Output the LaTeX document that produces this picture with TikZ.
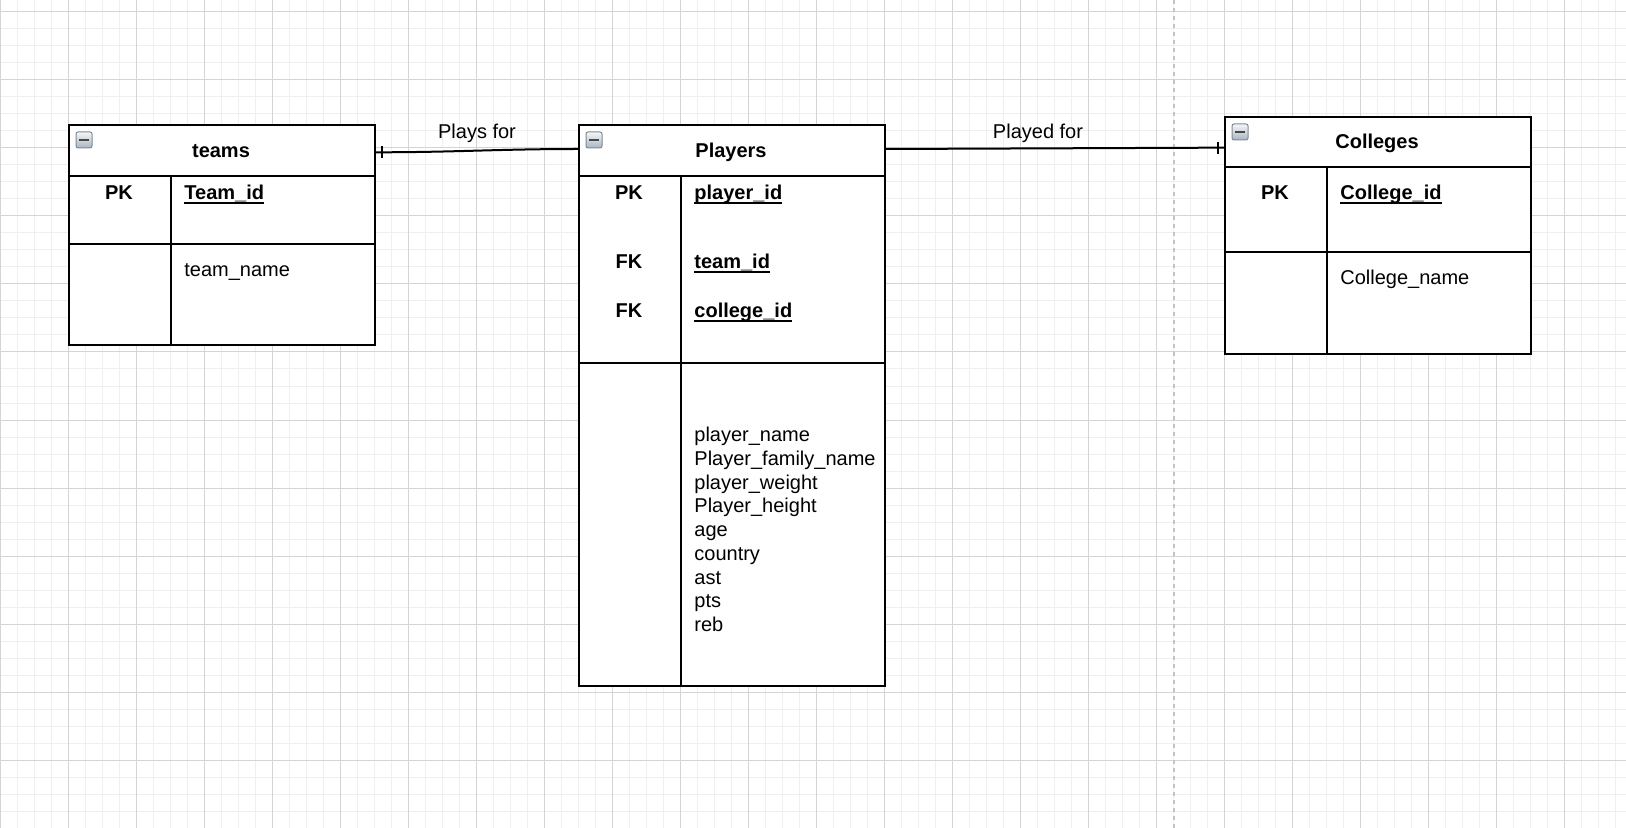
\documentclass[tikz,border=0pt]{standalone}
\usepackage{fontspec}
\setmainfont{Liberation Sans}
\usetikzlibrary{fit,calc}
\definecolor{gridminor}{HTML}{EFEFEF}
\definecolor{gridmajor}{HTML}{D4D4D4}
\definecolor{guide}{HTML}{C4C4C4}
\definecolor{iconedge}{HTML}{7E8A96}
\definecolor{icontop}{HTML}{F4F6F9}
\definecolor{iconbot}{HTML}{A9B5C1}
\newsavebox\kfbox
\newcommand{\keyfield}[1]{\sbox\kfbox{\bfseries #1}\usebox\kfbox\llap{\rule[-1.9pt]{\wd\kfbox}{0.9pt}}}
\tikzset{
  tbl/.style={draw=black, line width=1pt, fill=white, inner sep=0pt},
  hdr/.style={draw=black, line width=1pt, inner sep=0pt},
  divline/.style={line width=1pt},
  txt/.style={inner sep=0pt, font=\fontsize{10pt}{12pt}\selectfont, anchor=base west},
  ctxt/.style={inner sep=0pt, font=\fontsize{10pt}{12pt}\selectfont, anchor=base},
  ttl/.style={inner sep=0pt, font=\fontsize{10pt}{12pt}\selectfont\bfseries, anchor=base},
  keytxt/.style={inner sep=0pt, font=\fontsize{10pt}{12pt}\selectfont\bfseries, anchor=base},
  conn/.style={line width=1pt},
  crowbar/.style={line width=0.8pt},
  iconbox/.style={draw=iconedge, line width=0.5pt, rounded corners=1pt, top color=icontop, bottom color=iconbot,
     minimum size=8pt, inner sep=0pt,
     path picture={\draw[line width=1.1pt, black!72] ($(path picture bounding box.west)+(3,0)$) -- ($(path picture bounding box.east)+(-3,0)$);}},
}
\begin{document}
\begin{tikzpicture}[x=0.5pt, y=-0.5pt]
\useasboundingbox (0,0) rectangle (1626,828);
\fill[white] (0,0) rectangle (1626,828);
% grid
\foreach \x in {0,17,...,1626} \draw[gridminor, line width=0.5pt] (\x,0) -- (\x,828);
\foreach \y in {12,29,...,828} \draw[gridminor, line width=0.5pt] (0,\y) -- (1626,\y);
\foreach \x in {0,68,...,1626} \draw[gridmajor, line width=0.5pt] (\x,0) -- (\x,828);
\foreach \y in {12,80,...,828} \draw[gridmajor, line width=0.5pt] (0,\y) -- (1626,\y);
% page guide
\draw[guide, line width=0.6pt, dash pattern=on 2pt off 2pt] (1174,0) -- (1174,828);

% ---- teams
\node[tbl, fit={(68.7,125) (375,345)}] (teams) {};
\node[hdr, fit={(68.7,125) (375,176)}] (teamsH) {};
\draw[divline] (171,176) -- (171,345);
\draw[divline] (68.7,243.7) -- (375,243.7);
\node[iconbox] (teamsI) at (84,140) {};
\node[ttl] (teamsT) at (221,157.7) {teams};
\node[keytxt] (teamsPK) at (119,200) {PK};
\node[txt] (teamsId) at (184,200) {\keyfield{Team\_id}};
\node[txt] (teamsName) at (184,276.7) {team\_name};

% ---- Players
\node[tbl, fit={(579,125) (885,686)}] (players) {};
\node[hdr, fit={(579,125) (885,176)}] (playersH) {};
\draw[divline] (681,176) -- (681,686);
\draw[divline] (579,362.7) -- (885,362.7);
\node[iconbox] (playersI) at (594,140) {};
\node[ttl] (playersT) at (731,157.7) {Players};
\node[keytxt] (playersPK) at (629,200) {PK};
\node[txt] (playersId) at (694,200) {\keyfield{player\_id}};
\node[keytxt] (playersFK1) at (629,269) {FK};
\node[txt] (playersTeam) at (694,269) {\keyfield{team\_id}};
\node[keytxt] (playersFK2) at (629,317.7) {FK};
\node[txt] (playersColl) at (694,317.7) {\keyfield{college\_id}};
\foreach \t [count=\i] in {player\_name, Player\_family\_name, player\_weight, Player\_height, age, country, ast, pts, reb}
  \node[txt] (pf\i) at (694,{441.7+(\i-1)*23.75}) {\t};

% ---- Colleges
\node[tbl, fit={(1225,116.7) (1531,353.7)}] (coll) {};
\node[hdr, fit={(1225,116.7) (1531,167)}] (collH) {};
\draw[divline] (1327,167) -- (1327,353.7);
\draw[divline] (1225,252) -- (1531,252);
\node[iconbox] (collI) at (1240,132) {};
\node[ttl] (collT) at (1377,148.3) {Colleges};
\node[keytxt] (collPK) at (1275,200) {PK};
\node[txt] (collId) at (1340,200) {\keyfield{College\_id}};
\node[txt] (collName) at (1340,285) {College\_name};

% ---- connectors
\draw[conn] ([yshift=-0.9pt]teamsH.east) to[out=0,in=180] ([yshift=0.75pt]playersH.west);
\draw[crowbar] ([xshift=2.85pt,yshift=2.1pt]teamsH.east) -- ([xshift=2.85pt,yshift=-3.9pt]teamsH.east);
\node[ctxt] (lblPlays) at (477,138.3) {Plays for};

\draw[conn] ([yshift=0.75pt]playersH.east) -- ([yshift=-2.9pt]collH.west);
\draw[crowbar] ([xshift=-3pt,yshift=0.1pt]collH.west) -- ([xshift=-3pt,yshift=-5.9pt]collH.west);
\node[ctxt] (lblPlayed) at (1038,139) {Played for};
\end{tikzpicture}
\end{document}
